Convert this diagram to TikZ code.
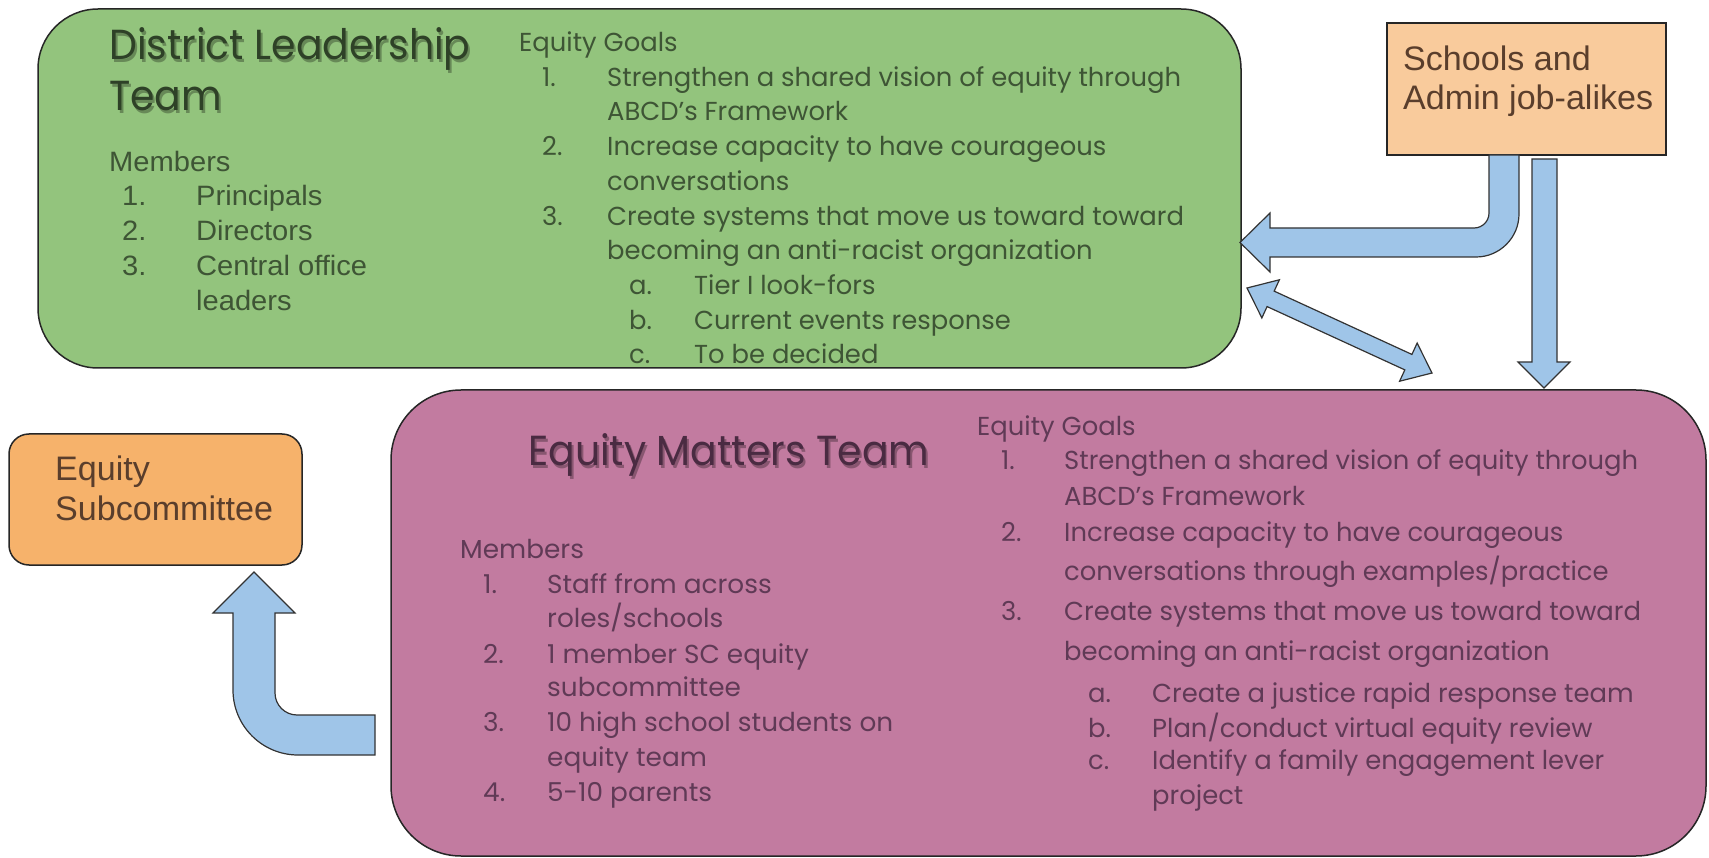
\documentclass[tikz,border=0pt]{standalone}
\usepackage{fontspec}
\usepackage{graphicx}
\setmainfont{Liberation Sans}
\newfontfamily\qfont{Poppins}
\newfontfamily\afont{Liberation Sans}
\definecolor{cgreen}{HTML}{93C47D}
\definecolor{cpink}{HTML}{C27BA0}
\definecolor{cpeach}{HTML}{F9CB9C}
\definecolor{corange}{HTML}{F6B26B}
\definecolor{cblue}{HTML}{9FC5E8}
\definecolor{gtxt}{HTML}{3E5535}
\definecolor{gtitle}{HTML}{2E4127}
\definecolor{ptxt}{HTML}{603A56}
\definecolor{ptitle}{HTML}{4A2B42}
\definecolor{otxt}{HTML}{5A3E2C}
\newlength\wtmp
\newcommand\gfnt{\qfont\fontsize{26}{30}\selectfont}
\newcommand\tfnt{\qfont\fontsize{42}{50}\selectfont}
\newcommand\afnt{\afont\fontsize{28}{34}\selectfont}
\newcommand\sfnt{\afont\fontsize{34}{39}\selectfont}
\newcommand\GT[1]{\scalebox{\gsx}[1]{\gfnt #1}}
\newcommand\MT[1]{\scalebox{\msx}[1]{\gfnt #1}}
\newcommand\TT[1]{\scalebox{\tsx}[1]{\tfnt #1}}
\newcommand\TTs[2]{\rlap{\hspace{2pt}\raisebox{-3pt}{\color{#1}\TT{#2}}}\TT{#2}}
\newcommand\AT[1]{\scalebox{\asx}[1]{\afnt #1}}
\newcommand\ST[1]{\scalebox{\ssx}[1]{\sfnt #1}}
\newcommand\fitscale[3]{\settowidth\wtmp{#2}\pgfmathsetmacro#1{#3/\wtmp}}
\AtBeginDocument{%
\fitscale\gsx{\gfnt Strengthen a shared vision of equity through}{574pt}%
\fitscale\msx{\gfnt 10 high school students on}{346pt}%
\fitscale\tsx{\tfnt Equity Matters Team}{401pt}%
\fitscale\asx{\afnt Central office}{171pt}%
\fitscale\ssx{\sfnt Admin job-alikes}{250pt}%
}
\begin{document}
\begin{tikzpicture}[x=1pt,y=-1pt,
  txt/.style={inner sep=0pt, anchor=base west},
  box/.style={draw=black!85, line width=1.5pt, inner sep=0pt},
  blockarrow/.style={fill=cblue, draw=black!80, line width=1.2pt}]
\useasboundingbox (0,0) rectangle (1709,858);
\fill[white] (0,0) rectangle (1709,858);

% ---------- District Leadership Team ----------
\node[box, fill=cgreen, minimum width=1203pt, minimum height=359pt, rounded corners=60pt] (dlt) at (639.5,188.5) {};
\node[txt, text=gtitle] (dltitle1) at (109,60) {\TTs{cgreen!70!black}{District Leadership}};
\node[txt, text=gtitle] (dltitle2) at (109,111) {\TTs{cgreen!70!black}{Team}};

\node[txt, text=gtxt] (dlmem) at (109,172) {\AT{Members}};
\node[txt, text=gtxt] (dlm1) at (122,206) {\makebox[74pt][l]{\AT{1.}}\AT{Principals}};
\node[txt, text=gtxt] (dlm2) at (122,241) {\makebox[74pt][l]{\AT{2.}}\AT{Directors}};
\node[txt, text=gtxt] (dlm3) at (122,276) {\makebox[74pt][l]{\AT{3.}}\AT{Central office}};
\node[txt, text=gtxt] (dlm3b) at (196,311) {\AT{leaders}};

\node[txt, text=gtxt] (dlg) at (519,52) {\GT{Equity Goals}};
\node[txt, text=gtxt] (dlg1) at (542,87) {\makebox[65pt][l]{\GT{1.}}\GT{Strengthen a shared vision of equity through}};
\node[txt, text=gtxt] (dlg1b) at (607,121) {\GT{ABCD’s Framework}};
\node[txt, text=gtxt] (dlg2) at (542,156) {\makebox[65pt][l]{\GT{2.}}\GT{Increase capacity to have courageous}};
\node[txt, text=gtxt] (dlg2b) at (607,191) {\GT{conversations}};
\node[txt, text=gtxt] (dlg3) at (542,226) {\makebox[65pt][l]{\GT{3.}}\GT{Create systems that move us toward toward}};
\node[txt, text=gtxt] (dlg3b) at (607,260) {\GT{becoming an anti-racist organization}};
\node[txt, text=gtxt] (dlga) at (629,295) {\makebox[65pt][l]{\GT{a.}}\GT{Tier I look-fors}};
\node[txt, text=gtxt] (dlgb) at (629,330) {\makebox[65pt][l]{\GT{b.}}\GT{Current events response}};
\node[txt, text=gtxt] (dlgc) at (629,364) {\makebox[65pt][l]{\GT{c.}}\GT{To be decided}};

% ---------- Equity Matters Team ----------
\node[box, fill=cpink, minimum width=1315pt, minimum height=466pt, rounded corners=70pt] (emt) at (1048.5,623) {};
\node[txt, text=ptitle] (emtitle) at (528,466) {\TTs{cpink!70!black}{Equity Matters Team}};

\node[txt, text=ptxt] (emmem) at (460,558) {\MT{Members}};
\node[txt, text=ptxt] (emm1) at (483,593) {\makebox[64pt][l]{\MT{1.}}\MT{Staff from across}};
\node[txt, text=ptxt] (emm1b) at (547,627) {\MT{roles/schools}};
\node[txt, text=ptxt] (emm2) at (483,663) {\makebox[64pt][l]{\MT{2.}}\MT{1 member SC equity}};
\node[txt, text=ptxt] (emm2b) at (547,696) {\MT{subcommittee}};
\node[txt, text=ptxt] (emm3) at (483,731) {\makebox[64pt][l]{\MT{3.}}\MT{10 high school students on}};
\node[txt, text=ptxt] (emm3b) at (547,766) {\MT{equity team}};
\node[txt, text=ptxt] (emm4) at (483,801) {\makebox[64pt][l]{\MT{4.}}\MT{5-10 parents}};

\node[txt, text=ptxt] (emg) at (977,436) {\GT{Equity Goals}};
\node[txt, text=ptxt] (emg1) at (1001,470) {\makebox[63pt][l]{\GT{1.}}\GT{Strengthen a shared vision of equity through}};
\node[txt, text=ptxt] (emg1b) at (1064,505) {\GT{ABCD’s Framework}};
\node[txt, text=ptxt] (emg2) at (1001,541) {\makebox[63pt][l]{\GT{2.}}\GT{Increase capacity to have courageous}};
\node[txt, text=ptxt] (emg2b) at (1064,580) {\GT{conversations through examples/practice}};
\node[txt, text=ptxt] (emg3) at (1001,620) {\makebox[63pt][l]{\GT{3.}}\GT{Create systems that move us toward toward}};
\node[txt, text=ptxt] (emg3b) at (1064,660) {\GT{becoming an anti-racist organization}};
\node[txt, text=ptxt] (emga) at (1088,702) {\makebox[64pt][l]{\GT{a.}}\GT{Create a justice rapid response team}};
\node[txt, text=ptxt] (emgb) at (1088,737) {\makebox[64pt][l]{\GT{b.}}\GT{Plan/conduct virtual equity review}};
\node[txt, text=ptxt] (emgc) at (1088,769) {\makebox[64pt][l]{\GT{c.}}\GT{Identify a family engagement lever}};
\node[txt, text=ptxt] (emgcb) at (1152,804) {\GT{project}};

% ---------- Schools and Admin job-alikes ----------
\node[box, fill=cpeach, minimum width=279pt, minimum height=132pt] (sch) at (1526.5,89) {};
\node[txt, text=otxt] (sch1) at (1403,71) {\ST{Schools and}};
\node[txt, text=otxt] (sch2) at (1403,110) {\ST{Admin job-alikes}};

% ---------- Equity Subcommittee ----------
\node[box, fill=corange, minimum width=293pt, minimum height=131pt, rounded corners=20pt] (esc) at (155.5,499.5) {};
\node[txt, text=otxt] (esc1) at (55,481) {\ST{Equity}};
\node[txt, text=otxt] (esc2) at (55,520) {\ST{Subcommittee}};

% ---------- Arrows ----------
% Schools -> District Leadership (bent)
\draw[blockarrow] (1489,155) -- (1489,213) .. controls (1489,221.3) and (1482.3,228) .. (1474,228)
  -- (1270,228) -- (1270,213) -- (1240,242.5) -- (1270,272) -- (1270,257) -- (1476,257)
  .. controls (1499.7,257) and (1519,237.7) .. (1519,214) -- (1519,155) -- cycle;
% Schools -> Equity Matters (straight down)
\draw[blockarrow] (1532,159) -- (1532,362) -- (1518,362) -- (1544,388) -- (1570,362) -- (1557,362) -- (1557,159) -- cycle;
% District Leadership <-> Equity Matters
\begin{scope}[shift={(1247,288)}, rotate=-24.68]
\draw[blockarrow] (0,0) -- (26,21) -- (26,8.5) -- (177.6,8.5) -- (177.6,21) -- (203.6,0)
  -- (177.6,-21) -- (177.6,-8.5) -- (26,-8.5) -- (26,-21) -- cycle;
\end{scope}
% Equity Matters -> Equity Subcommittee (bent)
\draw[blockarrow] (375,715) -- (297,715) .. controls (284.9,715) and (275,705.1) .. (275,693)
  -- (275,613) -- (295,613) -- (254,572) -- (213,613) -- (233,613) -- (233,690)
  .. controls (233,725.9) and (262.1,755) .. (298,755) -- (375,755) -- cycle;
\end{tikzpicture}
\end{document}
